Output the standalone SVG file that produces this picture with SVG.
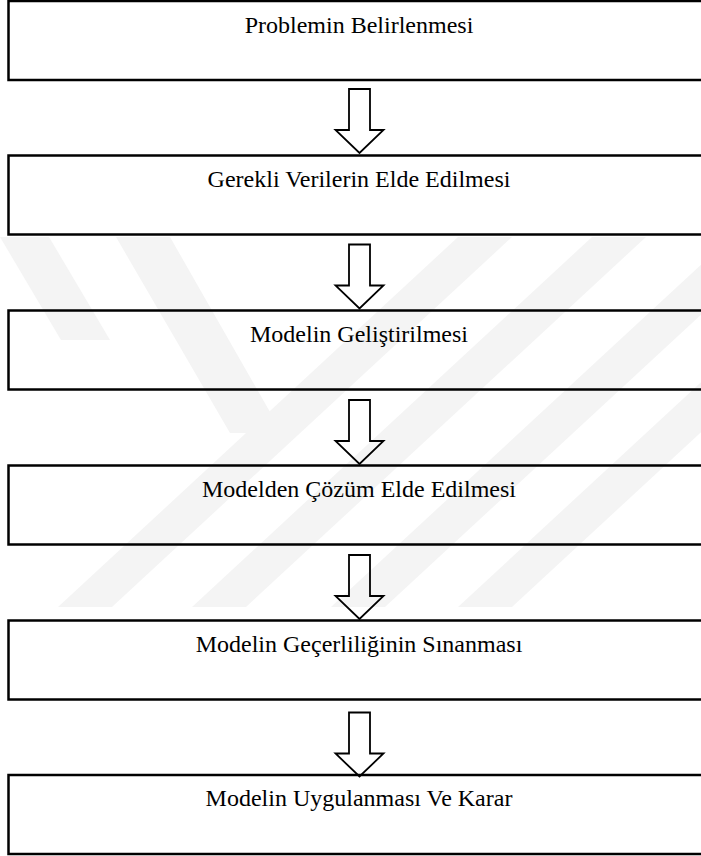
<svg xmlns="http://www.w3.org/2000/svg" width="701" height="856" viewBox="0 0 701 856">
  <style>
    .box { fill: none; stroke: #000; stroke-width: 2.5; }
    .label { font-family: "Liberation Serif", "Times New Roman", serif; font-size: 24px; fill: #000; text-anchor: middle; }
    .arrow { fill: none; stroke: #000; stroke-width: 1.8; stroke-linejoin: miter; }
    .mark { fill: #f4f4f4; }
  </style>
  <defs>
    <clipPath id="markClip">
      <rect x="0" y="237" width="701" height="370"/>
    </clipPath>
    <!-- hollow block arrow pointing down, tip at origin -->
    <path id="downArrow" d="M -10.5 -64 H 10.5 V -23 H 24 L 0 0 L -24 -23 H -10.5 Z"/>
  </defs>

  <rect width="701" height="856" fill="#fff"/>

  <!-- faint background emblem -->
  <g id="emblem" clip-path="url(#markClip)">
    <polygon class="mark" points="0,237 49,237 110,340 61,340 0,237"/>
    <polygon class="mark" points="116,237 170,237 282,433 230,433"/>
    <polygon class="mark" points="458,237 512,237 112,607 58,607"/>
    <polygon class="mark" points="592,237 646,237 246,607 192,607"/>
    <polygon class="mark" points="731,237 785,237 385,607 331,607"/>
    <polygon class="mark" points="858,237 912,237 512,607 458,607"/>
  </g>

  <g id="connectors">
    <use href="#downArrow" class="arrow" transform="translate(359.5,153)"/>
    <use href="#downArrow" class="arrow" transform="translate(359.5,308.5)"/>
    <use href="#downArrow" class="arrow" transform="translate(359.5,464)"/>
    <use href="#downArrow" class="arrow" transform="translate(359.5,619)"/>
    <use href="#downArrow" class="arrow" transform="translate(359.5,776.5)"/>
  </g>

  <g id="step1">
    <rect class="box" x="8.5" y="1" width="705" height="79"/>
    <text class="label" x="359" y="33">Problemin Belirlenmesi</text>
  </g>
  <g id="step2">
    <rect class="box" x="8.5" y="155.5" width="705" height="79"/>
    <text class="label" x="359" y="187">Gerekli Verilerin Elde Edilmesi</text>
  </g>
  <g id="step3">
    <rect class="box" x="8.5" y="310.5" width="705" height="79"/>
    <text class="label" x="359" y="342">Modelin Geliştirilmesi</text>
  </g>
  <g id="step4">
    <rect class="box" x="8.5" y="465.5" width="705" height="79"/>
    <text class="label" x="359" y="497">Modelden Çözüm Elde Edilmesi</text>
  </g>
  <g id="step5">
    <rect class="box" x="8.5" y="620.5" width="705" height="79"/>
    <text class="label" x="359" y="652">Modelin Geçerliliğinin Sınanması</text>
  </g>
  <g id="step6">
    <rect class="box" x="8.5" y="775" width="705" height="79"/>
    <text class="label" x="359" y="806">Modelin Uygulanması Ve Karar</text>
  </g>
</svg>
